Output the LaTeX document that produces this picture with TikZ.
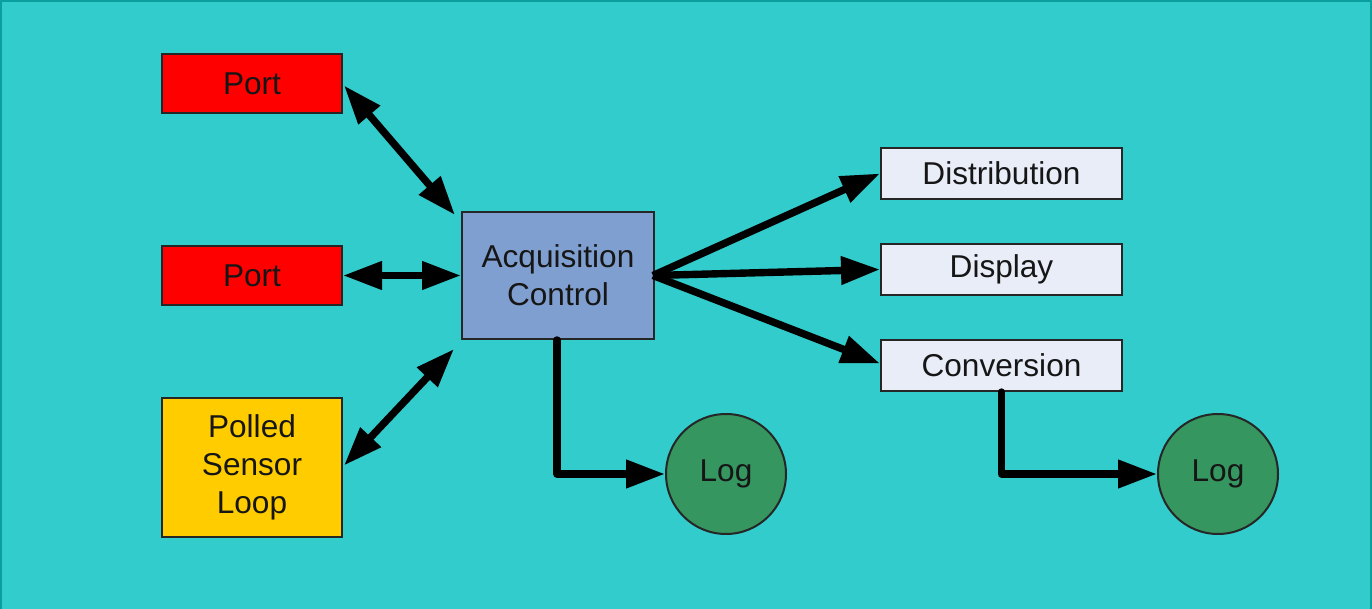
\documentclass[tikz,border=0pt]{standalone}
\usepackage{fontspec}
\setmainfont{Liberation Sans}
\usetikzlibrary{arrows.meta,calc}
\definecolor{bg}{RGB}{51,204,204}
\definecolor{framecol}{RGB}{10,158,158}
\definecolor{portred}{RGB}{255,0,0}
\definecolor{sensoryel}{RGB}{255,204,0}
\definecolor{acqblue}{RGB}{127,159,208}
\definecolor{outbox}{RGB}{233,237,248}
\definecolor{loggreen}{RGB}{54,150,96}
\definecolor{txt}{RGB}{22,22,22}
\begin{document}
\begin{tikzpicture}[x=0.5pt,y=-0.5pt,
  box/.style={draw=black!85, line width=1pt, inner sep=0pt, align=center, text=txt,
    font=\fontsize{15.8}{19}\selectfont},
  portbox/.style={box, fill=portred, minimum width=90pt, minimum height=29.5pt},
  sensorbox/.style={box, fill=sensoryel, minimum width=90pt, minimum height=69.5pt},
  acqbox/.style={box, fill=acqblue, minimum width=96pt, minimum height=63.5pt},
  outnode/.style={box, fill=outbox, minimum width=120.5pt, minimum height=25.5pt},
  lognode/.style={box, circle, fill=loggreen, minimum size=60pt},
  tipshape/.tip={Triangle[length=19.5pt,width=13.5pt]},
  conn/.style={line width=3.7pt, -tipshape},
  biconn/.style={line width=3.7pt, tipshape-tipshape},
  elbow/.style={line width=3.7pt, -tipshape, line join=round, line cap=round}
]
\useasboundingbox (0,0) rectangle (1372,609);
\fill[bg] (0,0) rectangle (1372,609);
\draw[framecol, line width=1.2pt] (1,609) -- (1,1) -- (1371,1) -- (1371,609);

\node[portbox] (port1) at (252,83.5) {Port};
\node[portbox] (port2) at (252,275.5) {Port};
\node[sensorbox] (sensor) at (252,467.5) {Polled\\Sensor\\Loop};
\node[acqbox] (acq) at (558,275.5) {Acquisition\\Control};
\node[outnode] (dist) at (1001.5,173.5) {Distribution};
\node[outnode] (disp) at (1001.5,269.5) {Display};
\node[outnode] (conv) at (1001.5,365.5) {Conversion};
\node[lognode] (log1) at (726,474) {Log};
\node[lognode] (log2) at (1218,474) {Log};

\coordinate (acqhi) at ($(acq.north west)+(-6,4)$);
\coordinate (acqlo) at ($(acq.south west)+(-7,9)$);
\coordinate (acqout) at ($(acq.east)+(-2,0)$);
\coordinate (acqbot) at ($(acq.south)+(-1,0)$);

\draw[biconn] ($(port1.east)+(1,2)$) -- (acqhi);
\draw[biconn] (port2.east) -- (acq.west);
\draw[biconn] ($(sensor.east)+(1,-2)$) -- (acqlo);
\draw[conn] (acqout) -- (dist.west);
\draw[conn] (acqout) -- (disp.west);
\draw[conn] (acqout) -- ($(conv.west)+(0,-2)$);
\draw[elbow] (acqbot) |- (log1.west);
\draw[elbow] (conv.south) |- (log2.west);
\end{tikzpicture}
\end{document}
